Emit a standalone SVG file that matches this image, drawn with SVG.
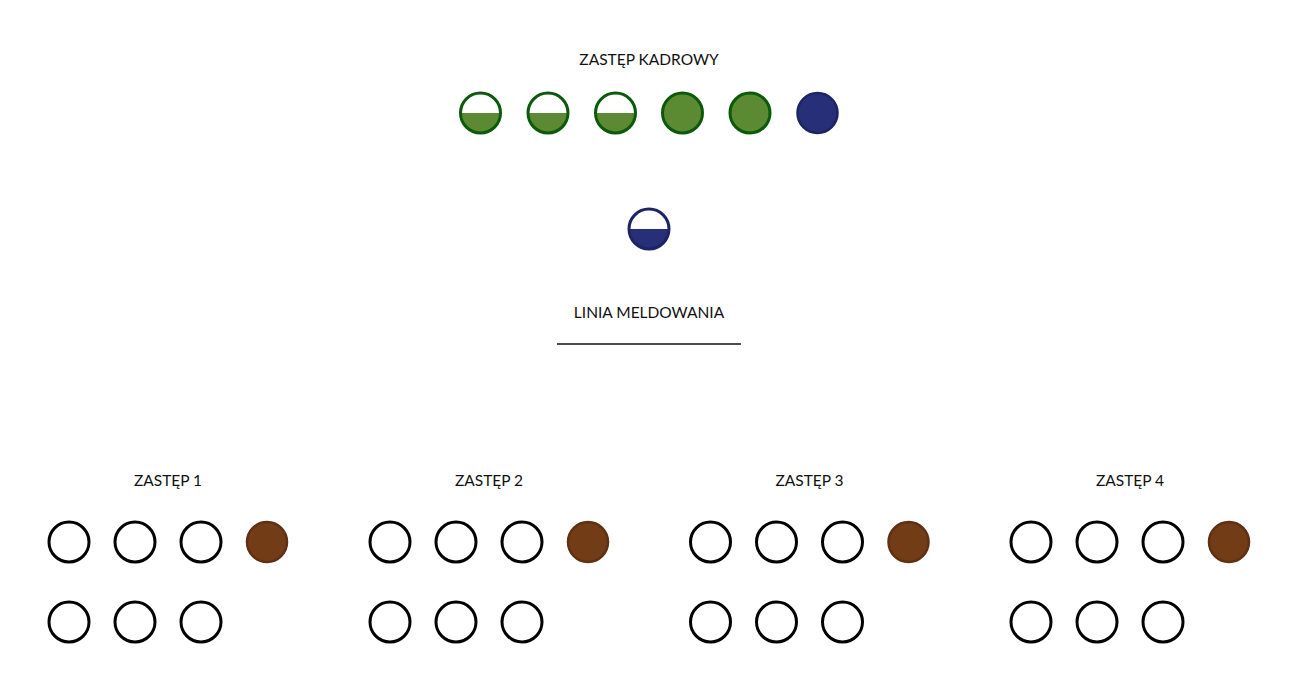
<svg xmlns="http://www.w3.org/2000/svg" width="1290" height="681" viewBox="0 0 1290 681">
<defs>
<style>
.lbl{font-family:Lato,"Open Sans","Liberation Sans",sans-serif;font-size:15.5px;fill:#111;text-anchor:middle}
.empty{fill:#fff;stroke:#000;stroke-width:3}
.brown{fill:#723c17;stroke:#5e3114;stroke-width:2.5}
.gfull{fill:#5b8a33;stroke:#0b5a0b;stroke-width:3}
.gfill{fill:#5b8a33}
.gring{fill:none;stroke:#0b5a0b;stroke-width:3}
.blue{fill:#262f78;stroke:#1c2464;stroke-width:2.5}
.bfill{fill:#262f78}
.bring{fill:none;stroke:#1c2464;stroke-width:3}
</style>
</defs>
<rect width="1290" height="681" fill="#fff"/>

<g id="zastep-kadrowy">
<text class="lbl" x="649" y="65">ZASTĘP KADROWY</text>
<g id="k1" transform="translate(480.5 113)"><circle r="20" fill="#fff"/><path d="M-20 0 A20 20 0 0 0 20 0 Z" class="gfill"/><circle r="20" class="gring"/></g>
<g id="k2" transform="translate(548 113)"><circle r="20" fill="#fff"/><path d="M-20 0 A20 20 0 0 0 20 0 Z" class="gfill"/><circle r="20" class="gring"/></g>
<g id="k3" transform="translate(615.5 113)"><circle r="20" fill="#fff"/><path d="M-20 0 A20 20 0 0 0 20 0 Z" class="gfill"/><circle r="20" class="gring"/></g>
<g id="k4"><circle cx="682.5" cy="113" r="20" class="gfull"/></g>
<g id="k5"><circle cx="750" cy="113" r="20" class="gfull"/></g>
<g id="k6"><circle cx="817.5" cy="113" r="20" class="blue"/></g>
</g>

<g id="dowodca" transform="translate(649 229)">
<circle r="20" fill="#fff"/>
<path d="M-20 0 A20 20 0 0 0 20 0 Z" class="bfill"/>
<circle r="20" class="bring"/>
</g>

<g id="linia-meldowania">
<text class="lbl" x="649" y="318">LINIA MELDOWANIA</text>
<line x1="557" y1="344" x2="741" y2="344" stroke="#111" stroke-width="1.3"/>
</g>

<g id="zastep1" transform="translate(69 0)">
<text class="lbl" x="99" y="486">ZASTĘP 1</text>
<circle cx="0" cy="542" r="20" class="empty"/>
<circle cx="66" cy="542" r="20" class="empty"/>
<circle cx="132" cy="542" r="20" class="empty"/>
<circle cx="198" cy="542" r="20" class="brown"/>
<circle cx="0" cy="622" r="20" class="empty"/>
<circle cx="66" cy="622" r="20" class="empty"/>
<circle cx="132" cy="622" r="20" class="empty"/>
</g>
<g id="zastep2" transform="translate(390 0)">
<text class="lbl" x="99" y="486">ZASTĘP 2</text>
<circle cx="0" cy="542" r="20" class="empty"/>
<circle cx="66" cy="542" r="20" class="empty"/>
<circle cx="132" cy="542" r="20" class="empty"/>
<circle cx="198" cy="542" r="20" class="brown"/>
<circle cx="0" cy="622" r="20" class="empty"/>
<circle cx="66" cy="622" r="20" class="empty"/>
<circle cx="132" cy="622" r="20" class="empty"/>
</g>
<g id="zastep3" transform="translate(710.5 0)">
<text class="lbl" x="99" y="486">ZASTĘP 3</text>
<circle cx="0" cy="542" r="20" class="empty"/>
<circle cx="66" cy="542" r="20" class="empty"/>
<circle cx="132" cy="542" r="20" class="empty"/>
<circle cx="198" cy="542" r="20" class="brown"/>
<circle cx="0" cy="622" r="20" class="empty"/>
<circle cx="66" cy="622" r="20" class="empty"/>
<circle cx="132" cy="622" r="20" class="empty"/>
</g>
<g id="zastep4" transform="translate(1031 0)">
<text class="lbl" x="99" y="486">ZASTĘP 4</text>
<circle cx="0" cy="542" r="20" class="empty"/>
<circle cx="66" cy="542" r="20" class="empty"/>
<circle cx="132" cy="542" r="20" class="empty"/>
<circle cx="198" cy="542" r="20" class="brown"/>
<circle cx="0" cy="622" r="20" class="empty"/>
<circle cx="66" cy="622" r="20" class="empty"/>
<circle cx="132" cy="622" r="20" class="empty"/>
</g>
</svg>
